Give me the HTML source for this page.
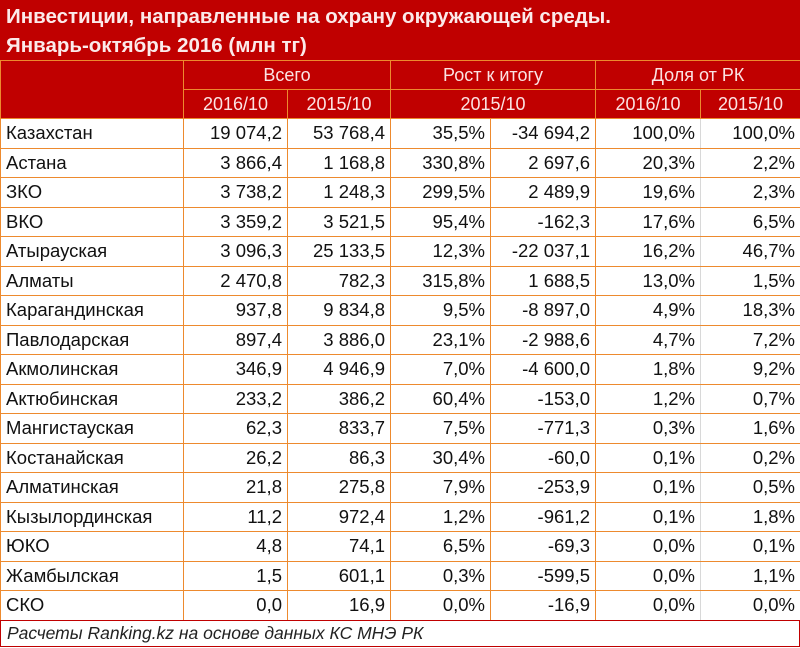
<!DOCTYPE html>
<html><head><meta charset="utf-8"><style>
body{margin:0;width:800px;height:648px;background:#fff;overflow:hidden;font-family:"Liberation Sans","DejaVu Sans",sans-serif;}
.title{position:absolute;left:0;top:0;width:800px;height:60px;background:#C00000;color:#fbeaea;font-weight:bold;font-size:20.5px;line-height:29px;box-sizing:border-box;padding:2px 0 0 6px;}
table{position:absolute;left:0;top:60px;border-collapse:collapse;table-layout:fixed;width:800px;}
td{border:1.5px solid #ED8A2E;font-size:18.5px;padding:0 5px;height:28.5px;line-height:28.5px;white-space:nowrap;overflow:hidden;color:#111;vertical-align:middle;}
.h td{background:#C00000;color:#fbe3e3;text-align:center;font-size:18px;height:28px;line-height:28px;}
td.n{text-align:right;}
td.g{border-right-color:#d8d8d8;}
.foot{position:absolute;left:0;top:620px;width:800px;height:27px;border:1.5px solid #C00000;box-sizing:border-box;font-style:italic;font-size:17.5px;line-height:24px;padding-left:6px;color:#222;}
</style></head><body>
<div class="title">Инвестиции, направленные на охрану окружающей среды.<br>Январь-октябрь 2016 (млн тг)</div>
<table>
<colgroup><col style="width:183px"><col style="width:104px"><col style="width:103px"><col style="width:100px"><col style="width:105px"><col style="width:105px"><col style="width:100px"></colgroup>
<tr class="h"><td rowspan="2"></td><td colspan="2">Всего</td><td colspan="2">Рост к итогу</td><td colspan="2">Доля от РК</td></tr>
<tr class="h"><td>2016/10</td><td>2015/10</td><td colspan="2">2015/10</td><td>2016/10</td><td>2015/10</td></tr>
<tr><td>Казахстан</td><td class="n">19 074,2</td><td class="n">53 768,4</td><td class="n">35,5%</td><td class="n">-34 694,2</td><td class="n g">100,0%</td><td class="n">100,0%</td></tr>
<tr><td>Астана</td><td class="n">3 866,4</td><td class="n">1 168,8</td><td class="n">330,8%</td><td class="n">2 697,6</td><td class="n g">20,3%</td><td class="n">2,2%</td></tr>
<tr><td>ЗКО</td><td class="n">3 738,2</td><td class="n">1 248,3</td><td class="n">299,5%</td><td class="n">2 489,9</td><td class="n g">19,6%</td><td class="n">2,3%</td></tr>
<tr><td>ВКО</td><td class="n">3 359,2</td><td class="n">3 521,5</td><td class="n">95,4%</td><td class="n">-162,3</td><td class="n g">17,6%</td><td class="n">6,5%</td></tr>
<tr><td>Атырауская</td><td class="n">3 096,3</td><td class="n">25 133,5</td><td class="n">12,3%</td><td class="n">-22 037,1</td><td class="n g">16,2%</td><td class="n">46,7%</td></tr>
<tr><td>Алматы</td><td class="n">2 470,8</td><td class="n">782,3</td><td class="n">315,8%</td><td class="n">1 688,5</td><td class="n g">13,0%</td><td class="n">1,5%</td></tr>
<tr><td>Карагандинская</td><td class="n">937,8</td><td class="n">9 834,8</td><td class="n">9,5%</td><td class="n">-8 897,0</td><td class="n g">4,9%</td><td class="n">18,3%</td></tr>
<tr><td>Павлодарская</td><td class="n">897,4</td><td class="n">3 886,0</td><td class="n">23,1%</td><td class="n">-2 988,6</td><td class="n g">4,7%</td><td class="n">7,2%</td></tr>
<tr><td>Акмолинская</td><td class="n">346,9</td><td class="n">4 946,9</td><td class="n">7,0%</td><td class="n">-4 600,0</td><td class="n g">1,8%</td><td class="n">9,2%</td></tr>
<tr><td>Актюбинская</td><td class="n">233,2</td><td class="n">386,2</td><td class="n">60,4%</td><td class="n">-153,0</td><td class="n g">1,2%</td><td class="n">0,7%</td></tr>
<tr><td>Мангистауская</td><td class="n">62,3</td><td class="n">833,7</td><td class="n">7,5%</td><td class="n">-771,3</td><td class="n g">0,3%</td><td class="n">1,6%</td></tr>
<tr><td>Костанайская</td><td class="n">26,2</td><td class="n">86,3</td><td class="n">30,4%</td><td class="n">-60,0</td><td class="n g">0,1%</td><td class="n">0,2%</td></tr>
<tr><td>Алматинская</td><td class="n">21,8</td><td class="n">275,8</td><td class="n">7,9%</td><td class="n">-253,9</td><td class="n g">0,1%</td><td class="n">0,5%</td></tr>
<tr><td>Кызылординская</td><td class="n">11,2</td><td class="n">972,4</td><td class="n">1,2%</td><td class="n">-961,2</td><td class="n g">0,1%</td><td class="n">1,8%</td></tr>
<tr><td>ЮКО</td><td class="n">4,8</td><td class="n">74,1</td><td class="n">6,5%</td><td class="n">-69,3</td><td class="n g">0,0%</td><td class="n">0,1%</td></tr>
<tr><td>Жамбылская</td><td class="n">1,5</td><td class="n">601,1</td><td class="n">0,3%</td><td class="n">-599,5</td><td class="n g">0,0%</td><td class="n">1,1%</td></tr>
<tr><td>СКО</td><td class="n">0,0</td><td class="n">16,9</td><td class="n">0,0%</td><td class="n">-16,9</td><td class="n g">0,0%</td><td class="n">0,0%</td></tr>
</table>
<div class="foot">Расчеты Ranking.kz на основе данных КС МНЭ РК</div>
</body></html>
